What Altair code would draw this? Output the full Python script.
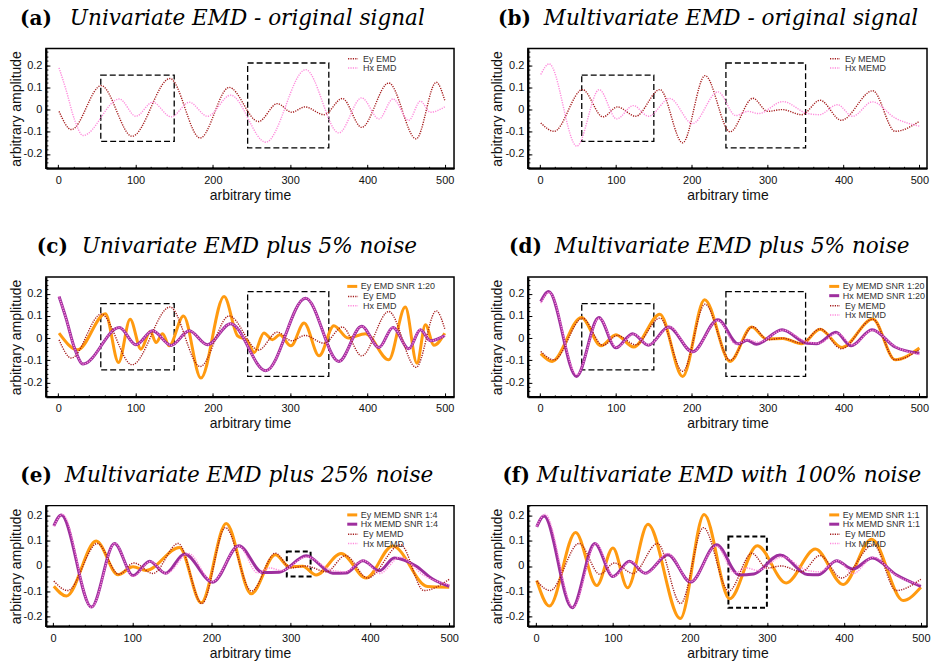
import altair as alt
import pandas as pd

# ---------------- data ----------------
# base signals
EY_EMD_T = [1, 17, 55.5, 95.5, 144.5, 183.5, 221, 259, 283.5, 302, 319, 344, 367.5, 392.5, 427.5, 463, 489, 500]
EY_EMD_V = [-0.008, -0.09, 0.108, -0.12, 0.14, -0.128, 0.10, -0.054, 0.027, -0.012, 0.012, -0.023, 0.05, -0.08, 0.12, -0.132, 0.123, 0.042]

HX_EMD_T = [1, 10, 21, 32, 79, 100.5, 122, 146, 169.5, 193, 223, 268.5, 320, 363, 392.5, 415, 433, 453.5, 468.5, 481.5, 500]
HX_EMD_V = [0.188, 0.09, -0.045, -0.117, 0.048, -0.03, 0.033, -0.033, 0.033, -0.03, 0.065, -0.147, 0.18, -0.105, 0.053, -0.042, 0.048, -0.048, 0.038, -0.012, 0.012]

EY_MEMD_T = [1, 18.5, 56, 83, 102, 126, 158, 188, 217.5, 250.5, 280.5, 300, 319, 345, 369, 397, 438.5, 468, 500]
EY_MEMD_V = [-0.06, -0.098, 0.09, -0.033, 0.012, -0.03, 0.09, -0.15, 0.153, -0.1, 0.051, -0.008, 0.0, -0.023, 0.042, -0.048, 0.085, -0.098, -0.053]

HX_MEMD_T = [1, 12, 48.5, 78, 101, 123, 143, 171, 201, 234.5, 258, 274, 288, 320, 352, 368, 392, 412, 438, 468, 500]
HX_MEMD_V = [0.158, 0.206, -0.165, 0.09, -0.042, 0.018, -0.03, 0.05, -0.063, 0.08, -0.027, -0.008, -0.018, 0.036, -0.017, -0.023, 0.022, -0.03, 0.035, -0.038, -0.075]

# (c) univariate EMD, SNR 1:20
EY_EMD_N20_T = [1, 25, 61, 78, 93, 107, 119, 126.5, 135, 143.5, 162, 184.5, 214.5, 232, 244, 253.5, 266, 277, 286.5, 301, 318, 337.5, 356.5, 375, 397.5, 427.5, 449, 464, 475, 486, 500]
EY_EMD_N20_V = [0.022, -0.053, 0.11, -0.11, 0.085, -0.05, 0.03, -0.02, 0.02, -0.035, 0.1, -0.18, 0.188, 0.01, -0.01, -0.065, 0.023, -0.007, 0.015, -0.035, 0.068, -0.08, 0.056, 0.0, 0.02, -0.098, 0.14, -0.113, 0.06, -0.032, 0.022]

# (d) multivariate EMD, SNR 1:20
EY_MEMD_N20_T = [1, 16, 54.5, 80.5, 100, 123.5, 158, 188, 217, 250.5, 279, 298, 320, 345, 369, 398, 438.5, 468, 500]
EY_MEMD_N20_V = [-0.07, -0.105, 0.093, -0.035, 0.015, -0.04, 0.108, -0.173, 0.173, -0.105, 0.05, -0.003, -0.002, -0.026, 0.04, -0.042, 0.086, -0.098, -0.045]
HX_MEMD_N20_T = [1, 11.5, 48, 77.5, 100, 122, 143, 169.5, 201, 234.5, 261, 273, 285, 319, 352, 365, 390, 410, 437.5, 468, 500]
HX_MEMD_N20_V = [0.165, 0.21, -0.173, 0.093, -0.044, 0.02, -0.032, 0.05, -0.062, 0.083, -0.026, -0.01, -0.028, 0.038, -0.023, -0.025, 0.026, -0.035, 0.038, -0.04, -0.068]

# (e) multivariate EMD, SNR 1:4
EY_MEMD_N4_T = [1, 17, 54.5, 82, 101, 117.5, 159.5, 187, 218.5, 250, 280.5, 298, 315, 332, 363.5, 395, 428.5, 472.5, 500]
EY_MEMD_N4_V = [-0.081, -0.12, 0.1, -0.035, -0.003, -0.018, 0.074, -0.147, 0.17, -0.111, 0.045, -0.003, -0.001, -0.036, 0.05, -0.048, 0.08, -0.082, -0.085]
HX_MEMD_N4_T = [1, 10.5, 48.5, 77.5, 101, 122, 142, 166, 201.5, 234.5, 264.5, 285.5, 319.5, 353, 369.5, 391, 412, 430.5, 458, 479, 500]
HX_MEMD_N4_V = [0.16, 0.204, -0.164, 0.09, -0.038, 0.019, -0.029, 0.048, -0.065, 0.081, -0.026, -0.025, 0.041, -0.029, -0.028, 0.021, -0.019, 0.032, 0.0, -0.052, -0.081]

# (f) multivariate EMD, SNR 1:1
EY_MEMD_N1_T = [1, 17.5, 51.5, 79, 100, 119, 145.5, 187.5, 218.5, 251.5, 287.5, 325, 363, 399, 436, 477, 500]
EY_MEMD_N1_V = [-0.058, -0.16, 0.134, -0.078, 0.072, -0.087, 0.167, -0.21, 0.206, -0.131, 0.081, -0.068, 0.068, -0.074, 0.107, -0.138, -0.085]
HX_MEMD_N1_T = [1, 10.5, 47, 76.5, 100, 121.5, 142, 171.5, 201, 234.5, 264, 283, 317, 352.5, 367, 390.5, 411.5, 437, 468, 500]
HX_MEMD_N1_V = [0.156, 0.2, -0.167, 0.09, -0.042, 0.019, -0.029, 0.045, -0.064, 0.085, -0.036, -0.032, 0.044, -0.034, -0.035, 0.021, -0.012, 0.032, -0.035, -0.081]

# dashed zoom boxes: (t0, t1, v0, v1)
BOXES_ABCD = [(55, 150, -0.143, 0.155), (245, 350, -0.173, 0.21)]
BOXES_E = [(295, 325, -0.042, 0.058)]
BOXES_F = [(250, 300, -0.167, 0.118)]

X_MAJOR = [0, 100, 200, 300, 400, 500]
X_MINOR = list(range(0, 501, 20))
Y_MAJOR = [-0.2, -0.1, 0, 0.1, 0.2]

SANS = "Liberation Sans"
SERIF = "DejaVu Serif"

ORANGE = "#ff9a10"
PURPLE = "#9e2f9e"
DRED = "#a51c1c"
PINK = "#ff8adc"
DOT = [1.2, 1.2]
ROW = 9.3          # legend row pitch
SYM_LEN = 10.0     # legend line length
SYM_SIDE = 6.0
TITLE_SIZE = 21.6
THICK_W = 3
DOT_W = 1.4


def mk_df(name, T, V):
    return pd.DataFrame({"series": [name] * len(T), "t": T, "v": V})


def ylab_expr():
    return ("datum.value == 0 ? '0' : (datum.value < 0 ? '-' + format(-datum.value, '.1f') "
            ": format(datum.value, '.1f'))")


def legend(row, sw, dash=None):
    a = SYM_LEN / SYM_SIDE
    path = "M-%.3f,0H%.3f" % (a, a)
    entry_h = SYM_SIDE + sw
    kw = dict(title=None, orient="none", legendX=302 - entry_h / 2 + SYM_LEN / 2,
              legendY=9.3 + row * ROW - entry_h / 2,
              symbolType=path, symbolSize=SYM_SIDE * SYM_SIDE, symbolStrokeWidth=sw,
              symbolFillColor="transparent", labelFont=SANS, labelFontSize=9,
              labelColor="#333", rowPadding=0, padding=0,
              labelOffset=4 + (THICK_W - sw), labelLimit=200)
    if dash is not None:
        kw["symbolDash"] = dash
    return alt.Legend(**kw)


def panel(letter, title, thick, dotted, hidden, boxes, xdom, ydom, width, height,
          box_w, box_dash, bold_right, ital_dx, ymin_step):
    xs = alt.Scale(domain=xdom, nice=False, zero=False)
    ys = alt.Scale(domain=ydom, nice=False, zero=False)

    main_x = alt.Axis(orient="bottom", values=X_MAJOR, title="arbitrary time", ticks=False,
                      grid=False, domain=True, domainWidth=2, domainColor="black",
                      labelPadding=6, titlePadding=3, labelFlush=False)
    main_y = alt.Axis(orient="left", values=Y_MAJOR, title="arbitrary amplitude", ticks=False,
                      grid=False, domain=True, domainWidth=2, domainColor="black",
                      labelPadding=4, titlePadding=0, labelExpr=ylab_expr())

    bdf = pd.DataFrame([{"x0": b[0], "x1": b[1], "y0": b[2], "y1": b[3]} for b in boxes])
    y_minor = []
    k = int(round(ydom[0] / ymin_step))
    while k * ymin_step <= ydom[1] + 1e-9:
        val = round(k * ymin_step, 4)
        if ydom[0] <= val <= ydom[1]:
            y_minor.append(val)
        k += 1

    minor_layer = alt.Chart(bdf).mark_rect(fill=None, stroke="black", strokeWidth=box_w,
                                           strokeDash=box_dash).encode(
        x=alt.X("x0:Q", scale=xs, axis=alt.Axis(orient="bottom", values=X_MINOR, labels=False,
                                                 title=None, domain=False, grid=False,
                                                 tickSize=2, offset=-2, tickColor="black")),
        x2="x1:Q",
        y=alt.Y("y0:Q", scale=ys, axis=alt.Axis(orient="left", values=y_minor, labels=False,
                                                 title=None, domain=False, grid=False,
                                                 tickSize=2, offset=-2, tickColor="black")),
        y2="y1:Q",
    )
    major_layer = alt.Chart(bdf).mark_rect(opacity=0).encode(
        x=alt.X("x0:Q", scale=xs, axis=alt.Axis(orient="bottom", values=X_MAJOR, labels=False,
                                                 title=None, domain=False, grid=False,
                                                 tickSize=4, offset=-4, tickColor="black")),
        x2="x1:Q",
        y=alt.Y("y0:Q", scale=ys, axis=alt.Axis(orient="left", values=Y_MAJOR, labels=False,
                                                 title=None, domain=False, grid=False,
                                                 tickSize=4, offset=-4, tickColor="black")),
        y2="y1:Q",
    )
    layers = [minor_layer, major_layer]
    row = 0
    all_series = [(s, True) for s in thick] + [(s, False) for s in dotted]
    for idx, ((name, T, V), is_thick) in enumerate(all_series):
        if is_thick:
            col = ORANGE if name.startswith("Ey") else PURPLE
            mk = dict(interpolate="monotone", strokeWidth=THICK_W)
        else:
            col = DRED if name.startswith("Ey") else PINK
            mk = dict(interpolate="monotone", strokeWidth=DOT_W, strokeDash=DOT)
        if name in hidden:
            lg = None
        else:
            lg = legend(row, THICK_W if is_thick else DOT_W, None if is_thick else DOT)
            row += 1
        last = idx == len(all_series) - 1
        layers.append(alt.Chart(mk_df(name, T, V)).mark_line(**mk).encode(
            x=alt.X("t:Q", scale=xs, axis=main_x if last else None),
            y=alt.Y("v:Q", scale=ys, axis=main_y if last else None),
            color=alt.Color("series:N", scale=alt.Scale(domain=[name], range=[col]), legend=lg),
        ))
    layers.append(alt.Chart(pd.DataFrame({"label": [letter]})).mark_text(
        font=SERIF, fontWeight="bold", fontSize=20, align="right", baseline="alphabetic",
        color="black").encode(x=alt.value(bold_right), y=alt.value(-24), text="label:N"))
    layers.append(alt.Chart(pd.DataFrame({"label": [title]})).mark_text(
        font=SERIF, fontStyle="italic", fontSize=TITLE_SIZE, align="left", baseline="alphabetic",
        color="black").encode(x=alt.value(ital_dx), y=alt.value(-24), text="label:N"))

    return alt.layer(*layers).resolve_axis(x="independent", y="independent").resolve_scale(
        color="independent").properties(width=width, height=height)


XD_L = [-16, 512]
XD_R = [-16, 510]
YD = [-0.265, 0.275]
YD2 = [-0.241, 0.241]

pa = panel("(a)", "Univariate EMD - original signal", [],
           [("Ey EMD", EY_EMD_T, EY_EMD_V), ("Hx EMD", HX_EMD_T, HX_EMD_V)],
           [], BOXES_ABCD, XD_L, YD, 409, 120, 1.3, [6, 3], 6, 24, 0.02)
pb = panel("(b)", "Multivariate EMD - original signal", [],
           [("Ey MEMD", EY_MEMD_T, EY_MEMD_V), ("Hx MEMD", HX_MEMD_T, HX_MEMD_V)],
           [], BOXES_ABCD, XD_R, YD, 400, 120, 1.3, [6, 3], 3, 16, 0.02)
pc = panel("(c)", "Univariate EMD plus 5% noise",
           [("Ey EMD SNR 1:20", EY_EMD_N20_T, EY_EMD_N20_V), ("Hx EMD SNR 1:20", HX_EMD_T, HX_EMD_V)],
           [("Ey EMD", EY_EMD_T, EY_EMD_V), ("Hx EMD", HX_EMD_T, HX_EMD_V)],
           ["Hx EMD SNR 1:20"], BOXES_ABCD, XD_L, YD, 409, 120, 1.3, [6, 3], 22, 36, 0.02)
pd_ = panel("(d)", "Multivariate EMD plus 5% noise",
            [("Ey MEMD SNR 1:20", EY_MEMD_N20_T, EY_MEMD_N20_V),
             ("Hx MEMD SNR 1:20", HX_MEMD_N20_T, HX_MEMD_N20_V)],
            [("Ey MEMD", EY_MEMD_T, EY_MEMD_V), ("Hx MEMD", HX_MEMD_T, HX_MEMD_V)],
            [], BOXES_ABCD, XD_R, YD, 400, 120, 1.3, [6, 3], 14, 27, 0.02)
pe = panel("(e)", "Multivariate EMD plus 25% noise",
           [("Ey MEMD SNR 1:4", EY_MEMD_N4_T, EY_MEMD_N4_V),
            ("Hx MEMD SNR 1:4", HX_MEMD_N4_T, HX_MEMD_N4_V)],
           [("Ey MEMD", EY_MEMD_T, EY_MEMD_V), ("Hx MEMD", HX_MEMD_T, HX_MEMD_V)],
           [], BOXES_E, [-9, 506], YD2, 409, 121, 2, [5, 3], 6, 19, 0.02)
pf = panel("(f)", "Multivariate EMD with 100% noise",
           [("Ey MEMD SNR 1:1", EY_MEMD_N1_T, EY_MEMD_N1_V),
            ("Hx MEMD SNR 1:1", HX_MEMD_N1_T, HX_MEMD_N1_V)],
           [("Ey MEMD", EY_MEMD_T, EY_MEMD_V), ("Hx MEMD", HX_MEMD_T, HX_MEMD_V)],
           [], BOXES_F, [-10.5, 508], YD2, 400, 121, 2, [5, 3], 2, 9, 0.02)

chart = alt.concat(pa, pb, pc, pd_, pe, pf, columns=2, spacing={"row": 32, "column": 30}).resolve_scale(
    x="independent", y="independent", color="independent"
).properties(
    padding={"left": 8, "top": 6, "right": 0, "bottom": 0}
).configure(font=SANS).configure_view(
    stroke="black", strokeWidth=1.5
).configure_axis(
    labelFont=SANS, labelFontSize=11, labelColor="#111", titleFont=SANS, titleFontSize=14,
    titleFontWeight="normal", titleColor="#111"
)

chart.save("out.html", embed_options={"renderer": "svg", "actions": False})
